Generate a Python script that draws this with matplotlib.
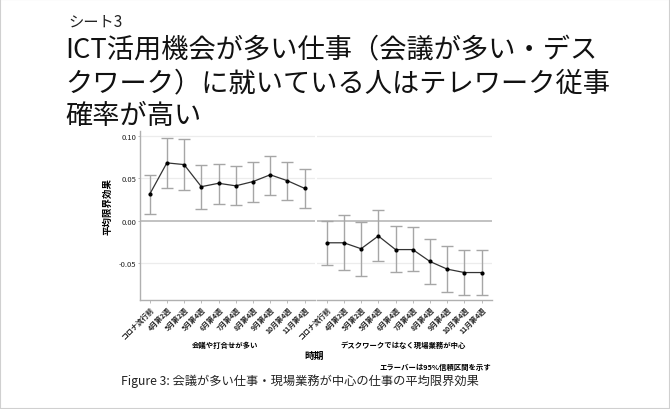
import matplotlib
matplotlib.use("Agg")
import matplotlib.pyplot as plt
from matplotlib.patches import Rectangle

plt.rcParams['font.family'] = ['Noto Sans CJK JP', 'DejaVu Sans']

# data
periods = ['コロナ流行前', '4月第2週', '5月第2週', '5月第4週', '6月第4週',
           '7月第4週', '8月第4週', '9月第4週', '10月第4週', '11月第4週']
groups = ['会議や打合せが多い', 'デスクワークではなく現場業務が中心']

meeting_est = [0.031, 0.068, 0.066, 0.040, 0.044, 0.041, 0.046, 0.054, 0.047, 0.038]
meeting_lo = [0.008, 0.039, 0.036, 0.014, 0.020, 0.018, 0.022, 0.030, 0.024, 0.015]
meeting_hi = [0.054, 0.097, 0.096, 0.066, 0.067, 0.064, 0.069, 0.076, 0.069, 0.061]

field_est = [-0.026, -0.026, -0.033, -0.018, -0.034, -0.034, -0.048, -0.057, -0.061, -0.061]
field_lo = [-0.052, -0.058, -0.065, -0.047, -0.060, -0.059, -0.075, -0.084, -0.088, -0.087]
field_hi = [0.000, 0.007, -0.001, 0.012, -0.006, -0.007, -0.021, -0.030, -0.035, -0.035]

yticks = [0.10, 0.05, 0.00, -0.05]

W, H = 670, 410


def fx(x):
    return x / W


def fy(y):
    return 1 - y / H


fig = plt.figure(figsize=(6.7, 4.1), dpi=100)
fig.patches.append(Rectangle((0, 0), 1, 1, transform=fig.transFigure,
                             fill=False, edgecolor='#d0d0d0', linewidth=1.5))

# header
fig.text(fx(68), fy(22), 'シート3', fontsize=11, va='center', ha='left', color='#222222')
title_lines = ['ICT活用機会が多い仕事（会議が多い・デス',
               'クワーク）に就いている人はテレワーク従事',
               '確率が高い']
for yy, line in zip([51, 84, 117], title_lines):
    fig.text(fx(65), fy(yy), line, fontsize=19.6, va='center', ha='left', color='#111111')

ax_bottom = fy(301)
ax_top = fy(132)
panels = [
    (140, 315, meeting_est, meeting_lo, meeting_hi),
    (317, 492, field_est, field_lo, field_hi),
]

xs = list(range(len(periods)))
for i, (x0, x1, est, lo, hi) in enumerate(panels):
    ax = fig.add_axes([fx(x0), ax_bottom, fx(x1) - fx(x0), ax_top - ax_bottom])
    ax.set_xlim(-0.56, 9.6)
    ax.set_ylim(-0.0933, 0.1055)
    for t in yticks:
        if t == 0:
            ax.axhline(t, color='#bdbdbd', lw=1.3, zorder=1)
        else:
            ax.axhline(t, color='#ececec', lw=0.9, zorder=0)
    yerr = [[e - l for e, l in zip(est, lo)], [h - e for e, h in zip(est, hi)]]
    ax.errorbar(xs, est, yerr=yerr, fmt='none', ecolor='#a6a6a6',
                elinewidth=1.0, capsize=4.2, capthick=1.0, zorder=2)
    ax.plot(xs, est, color='#333333', lw=0.9, marker='o', markersize=2.0,
            markerfacecolor='black', markeredgecolor='black', zorder=3)

    for s in ['top', 'right']:
        ax.spines[s].set_visible(False)
    ax.spines['bottom'].set_color('#b0b0b0')
    ax.spines['bottom'].set_linewidth(1.0)
    ax.set_xticks(xs)
    ax.set_xticklabels(periods, rotation=45, ha='right', rotation_mode='anchor',
                       fontsize=5.0, fontweight='bold', color='#222222')
    ax.tick_params(axis='x', length=2, width=0.6, color='#b0b0b0', pad=1.5)
    if i == 0:
        ax.spines['left'].set_color('#b0b0b0')
        ax.spines['left'].set_linewidth(1.0)
        ax.set_yticks(yticks)
        ax.set_yticklabels(['0.10', '0.05', '0.00', '-0.05'], fontsize=5.5, color='#222222')
        ax.tick_params(axis='y', length=1.5, width=0.6, color='#b0b0b0', pad=1)
        ax.set_ylabel('平均限界効果', fontsize=6.8, fontweight='bold')
        ax.yaxis.set_label_coords(-0.16, 0.56)
    else:
        ax.spines['left'].set_visible(False)
        ax.set_yticks([])
    ax.patch.set_alpha(0)

fig.text(fx(225), fy(345), groups[0], fontsize=5.3, fontweight='bold', ha='center', va='center')
fig.text(fx(403), fy(345), groups[1], fontsize=5.3, fontweight='bold', ha='center', va='center')
fig.text(fx(314), fy(356), '時期', fontsize=7, fontweight='bold', ha='center', va='center')
fig.text(fx(491), fy(367), 'エラーバーは95%信頼区間を示す', fontsize=5.3, fontweight='bold',
         ha='right', va='center')
fig.text(fx(121), fy(381), 'Figure 3: 会議が多い仕事・現場業務が中心の仕事の平均限界効果',
         fontsize=8.8, ha='left', va='center', color='#222222')

fig.savefig('out.png', dpi=100, facecolor='white')
